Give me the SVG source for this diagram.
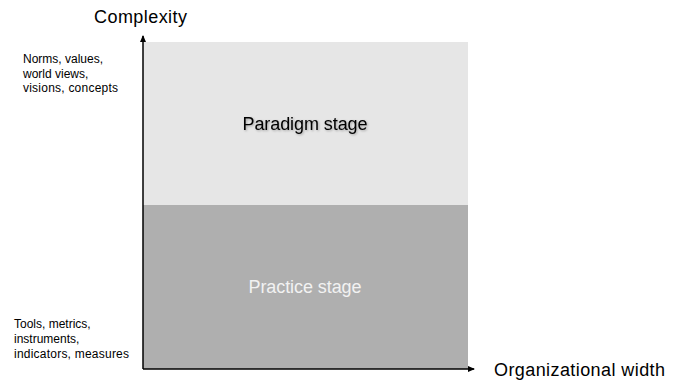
<svg xmlns="http://www.w3.org/2000/svg" width="680" height="380" viewBox="0 0 680 380">
<style>
text{font-family:"Liberation Sans",Arial,sans-serif;fill:#000}
.ax{font-size:18px}
.lbl{font-size:12px}
.stage{font-size:18px}
</style>
<defs>
<marker id="arr" markerWidth="8" markerHeight="8" refX="6" refY="4" orient="auto" markerUnits="userSpaceOnUse">
<path d="M0,1 L7,4 L0,7 Z" fill="#000"/>
</marker>
<filter id="sh" x="-10%" y="-30%" width="120%" height="160%">
<feDropShadow dx="1" dy="1" stdDeviation="0.8" flood-color="#000" flood-opacity="0.3"/>
</filter>
</defs>
<rect width="680" height="380" fill="#fff"/>
<g id="paradigm">
<rect x="143" y="42" width="325" height="163" fill="#e6e6e6"/>
<text class="stage" x="305" y="130" text-anchor="middle" textLength="125" filter="url(#sh)">Paradigm stage</text>
</g>
<g id="practice">
<rect x="143" y="205" width="325" height="164" fill="#afafaf"/>
<text class="stage" x="305" y="293" text-anchor="middle" textLength="113" style="fill:#f2f2f2">Practice stage</text>
</g>
<g id="connectors" stroke="#000" stroke-width="1.5" fill="none">
<line x1="143" y1="369" x2="143" y2="36" marker-end="url(#arr)"/>
<line x1="143" y1="369" x2="474" y2="369" marker-end="url(#arr)"/>
</g>
<g id="labels">
<text class="ax" x="94" y="23" textLength="93">Complexity</text>
<text class="ax" x="494" y="376" textLength="171">Organizational width</text>
<text class="lbl" x="23" y="63">Norms, values,</text>
<text class="lbl" x="23" y="78">world views,</text>
<text class="lbl" x="23" y="92" textLength="95">visions, concepts</text>
<text class="lbl" x="14" y="328">Tools, metrics,</text>
<text class="lbl" x="14" y="343">instruments,</text>
<text class="lbl" x="14" y="358" textLength="115">indicators, measures</text>
</g>
</svg>
